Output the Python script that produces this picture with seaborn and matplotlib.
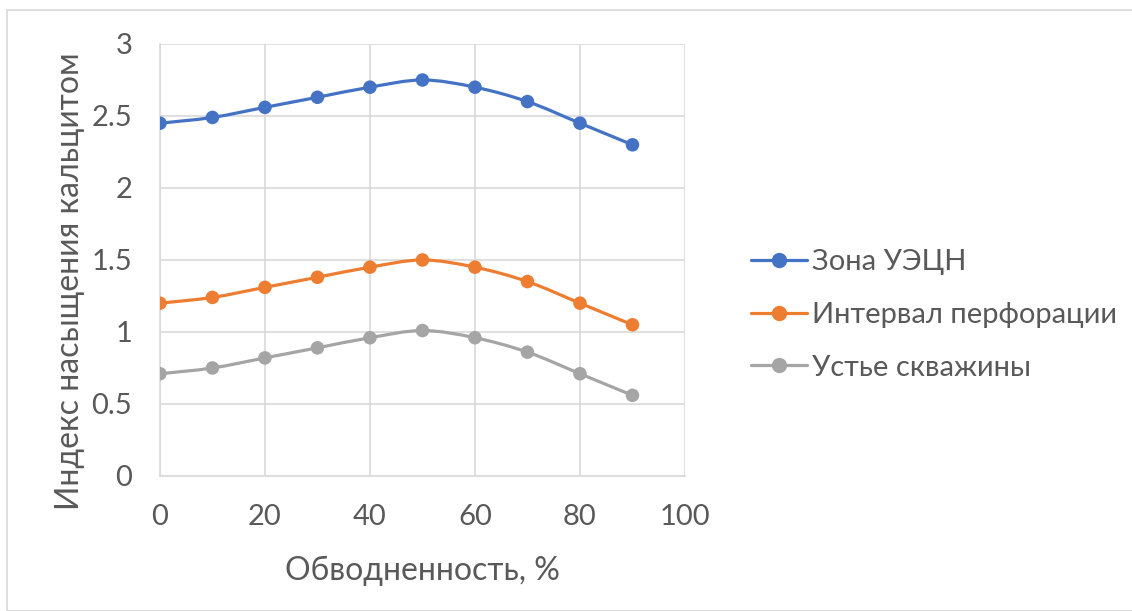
import numpy as np
import pandas as pd
import matplotlib
matplotlib.use("Agg")
import matplotlib.pyplot as plt
import seaborn as sns
from matplotlib.path import Path
from matplotlib.patches import PathPatch, Rectangle
from matplotlib.lines import Line2D

water_cut = [0, 10, 20, 30, 40, 50, 60, 70, 80, 90]
zone_esp = [2.45, 2.49, 2.56, 2.63, 2.70, 2.75, 2.70, 2.60, 2.45, 2.30]
perforation = [1.20, 1.24, 1.31, 1.38, 1.45, 1.50, 1.45, 1.35, 1.20, 1.05]
wellhead = [0.71, 0.75, 0.82, 0.89, 0.96, 1.01, 0.96, 0.86, 0.71, 0.56]
series_names = ["Зона УЭЦН", "Интервал перфорации", "Устье скважины"]
colors = ["#4472C4", "#ED7D31", "#A5A5A5"]
x_ticks = [0, 20, 40, 60, 80, 100]
y_ticks = [0, 0.5, 1, 1.5, 2, 2.5, 3]
y_tick_labels = ["0", "0.5", "1", "1.5", "2", "2.5", "3"]

sns.set_theme(style="white")
plt.rcParams['font.family'] = ['Lato', 'DejaVu Sans']
text_color = "#595959"

fig = plt.figure(figsize=(11.32, 6.11), dpi=100)
ax = fig.add_axes([0.1413, 0.2210, 0.4638, 0.7070])

fig.patches.append(Rectangle((7 / 1132, 0), 1.0, 1 - 10 / 611, transform=fig.transFigure,
                             fill=False, edgecolor="#D9D9D9", linewidth=1.2))

df = pd.DataFrame({"x": water_cut * 3,
                   "y": zone_esp + perforation + wellhead,
                   "series": sum([[n] * len(water_cut) for n in series_names], [])})


def smooth_path(xs, ys, t=1 / 6):
    pts = np.column_stack([xs, ys]).astype(float)
    n = len(pts)
    verts = [pts[0]]
    codes = [Path.MOVETO]
    for i in range(n - 1):
        p0 = pts[i - 1] if i > 0 else pts[i]
        p1 = pts[i]
        p2 = pts[i + 1]
        p3 = pts[i + 2] if i + 2 < n else pts[i + 1]
        c1 = p1 + (p2 - p0) * t
        c2 = p2 - (p3 - p1) * t
        verts += [c1, c2, p2]
        codes += [Path.CURVE4] * 3
    return Path(verts, codes)


for name, col in zip(series_names, colors):
    sub = df[df.series == name]
    ax.add_patch(PathPatch(smooth_path(sub.x.values, sub.y.values), fill=False,
                           edgecolor=col, linewidth=2.3, zorder=3, capstyle="round"))

sns.scatterplot(data=df, x="x", y="y", hue="series", palette=colors, s=95,
                edgecolor="none", legend=False, ax=ax, zorder=4)

ax.set_xlim(0, 100)
ax.set_ylim(0, 3)
ax.set_xticks(x_ticks)
ax.set_yticks(y_ticks)
ax.set_yticklabels(y_tick_labels)
ax.grid(True, color="#D9D9D9", linewidth=1.2)
ax.set_axisbelow(True)
for s in ["top", "right"]:
    ax.spines[s].set_visible(False)
ax.spines["left"].set_color("#D9D9D9")
ax.spines["bottom"].set_color("#D9D9D9")
ax.spines["left"].set_linewidth(1.2)
ax.spines["bottom"].set_linewidth(1.2)
ax.tick_params(axis="both", length=0, labelsize=21, colors=text_color)
ax.tick_params(axis="x", pad=20)
ax.tick_params(axis="y", pad=20)
ax.set_xlabel("Обводненность, %", fontsize=23, color=text_color, labelpad=19)
ax.set_ylabel("Индекс насыщения кальцитом", fontsize=23, color=text_color)
ax.yaxis.set_label_coords(-0.143, 0.451)

handles = [Line2D([0], [0], color=c, linewidth=2.3, marker="o", markersize=10) for c in colors]
leg = fig.legend(handles, series_names, loc="center left", bbox_to_anchor=(0.6405, 0.4845),
                 frameon=False, fontsize=21, handlelength=1.9, handletextpad=0.17,
                 labelspacing=0.91, labelcolor=text_color)

fig.savefig("out.png", dpi=100)
